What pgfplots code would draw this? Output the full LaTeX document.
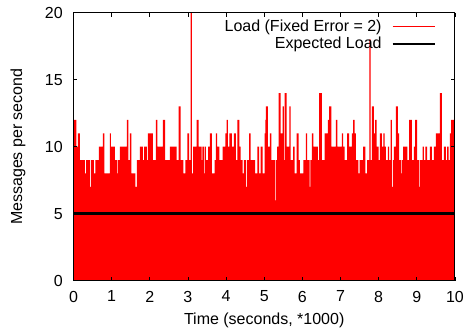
\documentclass[border=0pt]{standalone}
\usepackage{fontspec}
\setmainfont{Liberation Sans}
\usepackage{pgfplots}
\pgfplotsset{compat=1.18}
\begin{document}
\fontsize{12}{14}\selectfont
\begin{tikzpicture}
\path[use as bounding box] (-55.1pt,-37pt) rectangle (292.9pt,210.5pt);
\begin{axis}[
  at={(0,0)}, anchor=south west,
  scale only axis, width=286.1pt, height=201pt,
  xmin=0, xmax=10, ymin=0, ymax=20,
  xtick={0,1,...,10}, ytick={0,5,10,15,20},
  tick align=inside, major tick length=3pt,
  axis on top,
  axis line style={line width=0.75pt},
  tick style={black, line width=0.5pt},
  /pgf/number format/assume math mode=true,
  ticklabel style={font=\fontsize{12}{14}\selectfont},
  xticklabel style={yshift=-3.5pt},
  yticklabel style={xshift=-3.9pt},
  xlabel={Time (seconds, *1000)},
  ylabel={Messages per second},
  xlabel style={at={(axis description cs:0.5,-0.1468)}, anchor=center, font=\fontsize{12}{14}\selectfont},
  ylabel style={at={(axis description cs:-0.1454,0.5)}, anchor=center, font=\fontsize{12}{14}\selectfont},
  legend style={draw=none, fill=none, at={(axis description cs:1,1)}, anchor=north east,
    xshift=-14pt, yshift=-4pt, inner sep=0pt, row sep=0pt,
    font=\fontsize{12}{14}\selectfont,
    nodes={inner sep=1pt, text height=8.6pt, text depth=2.15pt}},
  legend cell align=right,
  legend plot pos=right,
  legend image code/.code={\path (0pt,0pt); \draw[#1] (6.3pt,0pt) -- (38pt,0pt);},
]
\addplot[const plot, fill=red, draw=none, forget plot] coordinates {
(0,12) (0.079,10) (0.118,11) (0.170,9) (0.30,8) (0.33,9) (0.44,7) (0.46,9) (0.537,8) (0.577,9) (0.668,10) (0.773,11) (0.813,8) (0.957,11) (0.983,10) (1.088,9) (1.15,8) (1.17,9) (1.219,10) (1.402,12) (1.442,9) (1.481,11) (1.520,8) (1.625,7) (1.664,9) (1.743,10) (1.82,9) (1.85,10) (1.927,9) (1.953,11) (2.084,9) (2.163,12) (2.197,10) (2.346,12) (2.406,9)
(2.529,10) (2.705,9) (2.758,13) (2.810,9) (2.878,8) (2.931,9) (2.983,11) (3.035,9) (3.072,20) (3.106,8) (3.140,10) (3.229,12) (3.282,10) (3.36,9) (3.38,10) (3.42,8) (3.44,10) (3.473,9) (3.533,10) (3.578,11) (3.630,8) (3.701,9) (3.735,11) (3.769,10) (3.822,9) (3.911,10) (3.979,11) (4.016,12) (4.050,10) (4.084,11) (4.155,10) (4.207,11) (4.260,9) (4.294,12) (4.346,10) (4.383,9) (4.435,8) (4.469,9) (4.52,7) (4.545,9) (4.608,11) (4.645,9) (4.765,8) (4.818,10) (4.870,8) (4.907,10) (4.959,8) (5.012,11) (5.028,12)
(5.046,13) (5.098,10) (5.151,11) (5.185,9) (5.290,6) (5.315,9) (5.342,10) (5.379,14) (5.431,11) (5.484,13) (5.518,9) (5.536,14) (5.589,10) (5.657,13) (5.693,9) (5.761,10) (5.798,8) (5.851,11) (5.903,9) (5.937,8) (6.024,9) (6.094,11) (6.128,9) (6.19,7) (6.21,9) (6.252,11) (6.286,10) (6.409,9) (6.443,14) (6.514,9) (6.585,11) (6.671,12) (6.705,13) (6.758,10) (6.881,12) (6.915,10) (7.038,11) (7.072,10) (7.109,9) (7.177,11) (7.229,10) (7.300,11) (7.334,12) (7.371,11) (7.405,9) (7.47,8) (7.50,9)
(7.596,10) (7.649,8) (7.701,9) (7.754,18) (7.790,9) (7.824,13) (7.877,11) (7.911,12) (7.948,10) (8.000,9) (8.034,11) (8.087,10) (8.121,11) (8.157,10) (8.191,9) (8.244,10) (8.278,9) (8.315,12) (8.349,7) (8.375,9) (8.401,10) (8.453,13) (8.506,11) (8.540,9) (8.59,8) (8.61,9) (8.645,10) (8.750,9) (8.802,12) (8.873,9) (8.925,10) (8.959,12) (9.012,9) (9.07,7) (9.09,9) (9.153,10) (9.187,9) (9.222,10) (9.274,9) (9.345,10) (9.397,9) (9.450,10) (9.502,11) (9.607,14) (9.659,9) (9.712,10) (9.764,9) (9.798,10) (9.835,9) (9.869,11) (9.903,12) (10,12)
} \closedcycle;
\addplot[black, line width=1.8pt, forget plot] coordinates {(0,5) (10,5)};
\addlegendimage{red, line width=0.8pt}
\addlegendentry{Load (Fixed Error = 2)}
\addlegendimage{black, line width=1.8pt}
\addlegendentry{Expected Load}
\end{axis}
\end{tikzpicture}
\end{document}
